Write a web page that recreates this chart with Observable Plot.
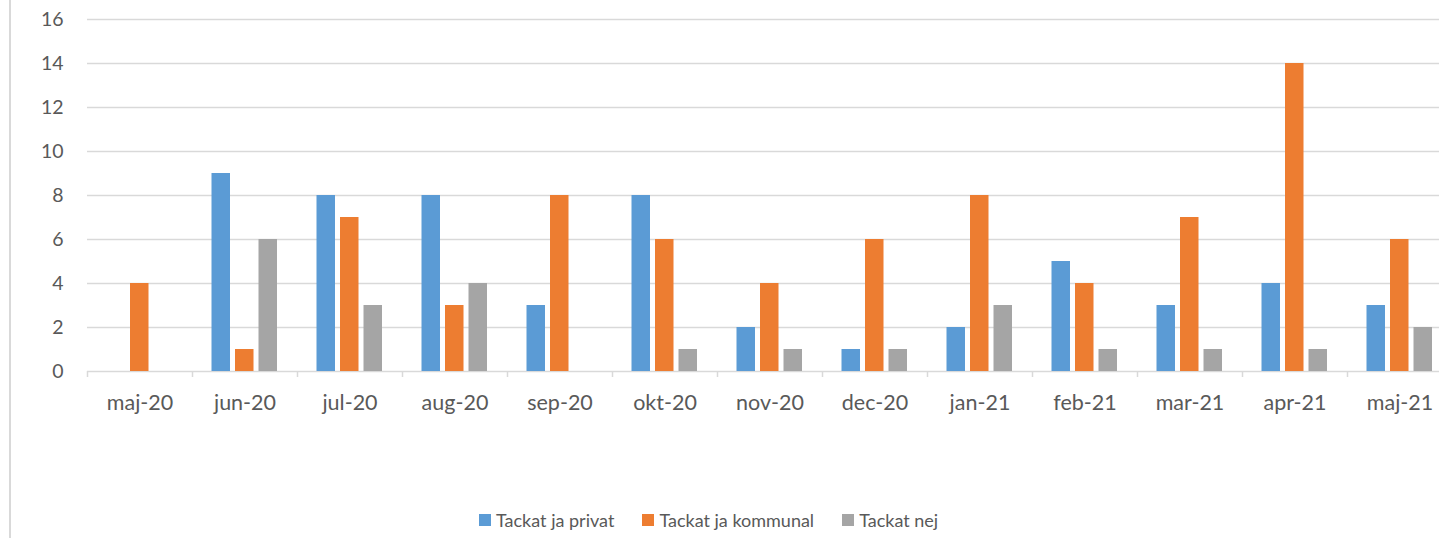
<!DOCTYPE html>
<html>
<head>
<meta charset="utf-8">
<script src="https://cdn.jsdelivr.net/npm/d3@7"></script>
<script src="https://cdn.jsdelivr.net/npm/@observablehq/plot@0.6"></script>
<style>
  html, body { margin: 0; padding: 0; background: #fff; overflow: hidden; }
  #wrap { position: relative; width: 1439px; height: 538px; font-family: Lato, "Open Sans", sans-serif; }
  #border { position: absolute; left: 9px; top: 0; width: 2px; height: 538px; background: #d9d9d9; }
  #chart { position: absolute; left: 0; top: 0; }
  #legend { position: absolute; top: 509px; left: 479px; display: flex; align-items: center; font-size: 18px; color: #595959; white-space: nowrap; }
  .item { display: flex; align-items: center; margin-right: 28px; }
  .sw { width: 12px; height: 12px; margin-right: 5px; }
</style>
</head>
<body>
<div id="wrap">
  <div id="border"></div>
  <div id="chart"></div>
  <div id="legend"></div>
</div>
<script>
const months = ["maj-20","jun-20","jul-20","aug-20","sep-20","okt-20","nov-20","dec-20","jan-21","feb-21","mar-21","apr-21","maj-21"];
const privat =   [0, 9, 8, 8, 3, 8, 2, 1, 2, 5, 3, 4, 3];
const kommunal = [4, 1, 7, 3, 8, 6, 4, 6, 8, 4, 7, 14, 6];
const nej =      [0, 6, 3, 4, 0, 1, 1, 1, 3, 1, 1, 1, 2];
const seriesNames = ["Tackat ja privat", "Tackat ja kommunal", "Tackat nej"];
const seriesColors = ["#5b9bd5", "#ed7d31", "#a5a5a5"];
const yTicks = [0, 2, 4, 6, 8, 10, 12, 14, 16];

const rows = (vals) => months.map((m, i) => ({month: m, value: vals[i]}));
const dPrivat = rows(privat), dKommunal = rows(kommunal), dNej = rows(nej);

const textColor = "#595959";
const gridColor = "#d9d9d9";

const chart = Plot.plot({
  width: 1439,
  height: 440,
  marginLeft: 87,
  marginRight: 0,
  marginTop: 19,
  marginBottom: 69,
  style: {fontFamily: "Lato, 'Open Sans', sans-serif", background: "transparent"},
  x: {type: "band", domain: months, range: [87, 1452], padding: 0, axis: null},
  y: {domain: [0, 16], axis: null},
  marks: [
    Plot.ruleY(yTicks.filter(d => d > 0), {stroke: gridColor, strokeWidth: 1.5}),
    Plot.ruleY([0], {stroke: gridColor, strokeWidth: 1.5}),
    Plot.ruleX(months, {x: d => d, y1: 0, y2: 0, insetBottom: -6, dx: -52.5, stroke: gridColor, strokeWidth: 1.5}),
    Plot.barY(dPrivat, {x: "month", y: "value", fill: seriesColors[0], insetLeft: 19.5, insetRight: 67}),
    Plot.barY(dKommunal, {x: "month", y: "value", fill: seriesColors[1], insetLeft: 43, insetRight: 43.5}),
    Plot.barY(dNej, {x: "month", y: "value", fill: seriesColors[2], insetLeft: 66.5, insetRight: 20}),
    Plot.text(yTicks, {y: d => d, frameAnchor: "left", dx: -24, textAnchor: "end", fill: textColor, fontSize: 19.5}),
    Plot.text(months, {x: d => d, frameAnchor: "bottom", lineAnchor: "middle", dy: 32, fill: textColor, fontSize: 21.5})
  ]
});
document.getElementById("chart").appendChild(chart);

const legend = document.getElementById("legend");
seriesNames.forEach((name, i) => {
  const item = document.createElement("div");
  item.className = "item";
  const sw = document.createElement("div");
  sw.className = "sw";
  sw.style.background = seriesColors[i];
  const label = document.createElement("span");
  label.textContent = name;
  item.appendChild(sw);
  item.appendChild(label);
  legend.appendChild(item);
});
</script>
</body>
</html>
